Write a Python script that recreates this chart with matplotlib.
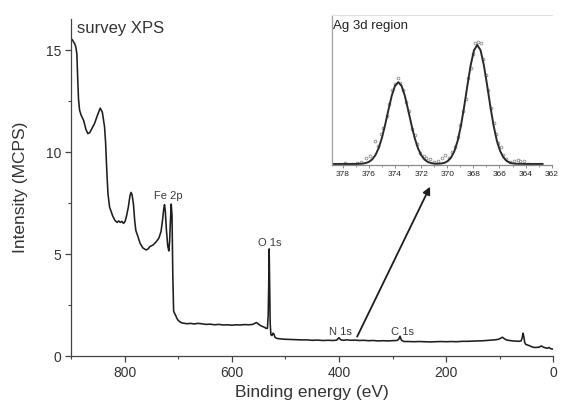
import matplotlib
matplotlib.use("Agg")
import matplotlib.pyplot as plt
from matplotlib.ticker import MultipleLocator

plt.rcParams['font.family'] = ['Liberation Sans', 'DejaVu Sans']

# ---- survey spectrum (binding energy in eV, intensity in MCPS) ----
survey_energy = [
    900, 897.5, 893, 891, 889, 887.5, 886, 884, 881, 876.5,
    872, 868.5, 865, 862, 856, 850, 845.5, 841.5, 837.5, 835.5,
    833, 831, 828, 822, 818, 814, 811, 808, 805, 802,
    799, 796.5, 793, 790, 788, 786, 783.5, 781, 779, 775,
    771, 766, 760, 756, 753, 747, 741, 736, 732, 729,
    727, 725.5, 724, 722, 719.5, 717.5, 716, 714.5, 713, 711.5,
    710, 708.5, 706.5, 704.5, 702.5, 700, 697, 693, 688, 683,
    677, 670, 663, 656, 648, 640, 632, 624, 616, 608,
    600, 592, 584, 576, 568, 561, 557, 554, 550, 545,
    540, 536, 533.5, 532, 531, 530.2, 529.3, 528.3, 527, 525,
    523, 521.5, 519, 515, 509, 500, 490, 480, 470, 460,
    450, 440, 430, 420, 410, 404, 400, 397, 392, 385,
    378, 370, 362, 354, 345, 336, 327, 318, 309, 300,
    292, 288.5, 286, 283.5, 279, 270, 260, 250, 240, 230,
    220, 210, 200, 190, 180, 170, 160, 150, 140, 130,
    120, 110, 102, 98, 95, 91, 87, 82, 76, 70,
    64, 60, 58, 56.5, 55, 53.5, 51.5, 48, 44, 40,
    36, 31, 27, 24, 22, 19, 15, 11, 8, 5,
    2, 0,
]
survey_counts = [
    15.55, 15.5, 15.3, 15.15, 14.8, 13.6, 12.6, 12.05, 11.8, 11.55,
    11.1, 10.9, 10.95, 11.1, 11.4, 11.85, 12.15, 11.95, 11.25, 10.5,
    8.95, 7.95, 7.3, 6.85, 6.65, 6.55, 6.62, 6.55, 6.6, 6.5,
    6.6, 6.85, 7.3, 7.85, 8.02, 7.9, 7.45, 6.6, 6.15, 5.85,
    5.52, 5.3, 5.2, 5.25, 5.36, 5.44, 5.6, 5.78, 6.1, 6.7,
    7.2, 7.42, 7.1, 6.2, 5.4, 5.15, 5.6, 6.6, 7.45, 6.9,
    3.9, 2.2, 2.08, 1.98, 1.85, 1.75, 1.68, 1.62, 1.6, 1.58,
    1.6, 1.57, 1.6, 1.58, 1.55, 1.56, 1.53, 1.55, 1.52, 1.53,
    1.51, 1.53, 1.52, 1.54, 1.53, 1.55, 1.6, 1.64, 1.56, 1.47,
    1.42, 1.36, 1.35, 2.0, 3.6, 5.25, 3.5, 1.6, 1.05, 1.0,
    1.12, 1.08, 0.9, 0.86, 0.84, 0.82, 0.81, 0.8, 0.79, 0.79,
    0.77, 0.78, 0.76, 0.77, 0.76, 0.78, 0.9, 0.8, 0.77, 0.79,
    0.77, 0.78, 0.76, 0.77, 0.75, 0.76, 0.74, 0.75, 0.74, 0.75,
    0.76, 0.82, 0.97, 0.78, 0.71, 0.71, 0.7, 0.71, 0.7, 0.69,
    0.7, 0.71, 0.7, 0.71, 0.7, 0.72, 0.72, 0.73, 0.74, 0.75,
    0.77, 0.79, 0.82, 0.88, 0.92, 0.84, 0.78, 0.76, 0.74, 0.73,
    0.72, 0.74, 0.9, 1.12, 0.95, 0.68, 0.57, 0.54, 0.5, 0.45,
    0.42, 0.42, 0.43, 0.47, 0.49, 0.44, 0.4, 0.38, 0.42, 0.36,
    0.34, 0.33,
]

# peak assignments: label text and the point where each label is centred
peak_labels = ["Fe 2p", "O 1s", "N 1s", "C 1s"]
peak_label_energy = [718, 529, 398, 282]
peak_label_height = [7.85, 5.56, 1.2, 1.2]

# ---- Ag 3d high-resolution region (fitted envelope and measured points) ----
ag_fit_energy = [
    379.0, 378.0, 377.0, 376.75, 376.5, 376.25, 376.0, 375.75, 375.5, 375.25,
    375.0, 374.75, 374.5, 374.25, 374.0, 373.75, 373.5, 373.25, 373.0, 372.75,
    372.5, 372.25, 372.0, 371.75, 371.5, 371.25, 371.0, 370.75, 370.45, 370.2,
    369.95, 369.7, 369.45, 369.2, 368.95, 368.7, 368.45, 368.2, 367.95, 367.7,
    367.45, 367.2, 366.95, 366.7, 366.45, 366.2, 365.95, 365.7, 365.45, 365.2,
    364.95, 364.7, 364.0, 363.0, 362.7,
]
ag_fit_counts = [
    0.007, 0.007, 0.007, 0.008, 0.009, 0.013, 0.021, 0.037, 0.066, 0.113,
    0.182, 0.271, 0.369, 0.462, 0.528, 0.552, 0.528, 0.462, 0.369, 0.271,
    0.182, 0.113, 0.066, 0.037, 0.021, 0.013, 0.009, 0.008, 0.010, 0.015,
    0.027, 0.051, 0.093, 0.162, 0.262, 0.391, 0.534, 0.668, 0.765, 0.800,
    0.765, 0.668, 0.534, 0.391, 0.262, 0.162, 0.093, 0.051, 0.027, 0.015,
    0.010, 0.008, 0.007, 0.007, 0.007,
]
ag_meas_energy = [
    377.8, 377.3, 376.9, 376.6, 376.2, 375.9, 375.55, 375.3, 375.1, 374.9,
    374.65, 374.45, 374.2, 374.0, 373.8, 373.6, 373.4, 373.15, 372.95, 372.7,
    372.5, 372.3, 372.05, 371.8, 371.6, 371.3, 371.0, 370.7, 370.4, 370.15,
    369.9, 369.65, 369.4, 369.2, 369.0, 368.8, 368.6, 368.4, 368.2, 368.0,
    367.85, 367.65, 367.45, 367.25, 367.05, 366.85, 366.65, 366.45, 366.3, 366.1,
    365.9, 365.7, 365.5, 365.2, 364.9, 364.6, 364.4, 364.1, 363.8,
]
ag_meas_counts = [
    0.015, 0.004, 0.012, 0.02, 0.045, 0.06, 0.16, 0.13, 0.21, 0.25,
    0.33, 0.41, 0.50, 0.54, 0.58, 0.55, 0.50, 0.42, 0.36, 0.24,
    0.20, 0.14, 0.08, 0.06, 0.05, 0.04, 0.02, 0.03, 0.05, 0.07,
    0.05, 0.09, 0.12, 0.19, 0.27, 0.36, 0.44, 0.58, 0.65, 0.74,
    0.81, 0.82, 0.81, 0.71, 0.60, 0.50, 0.38, 0.28, 0.21, 0.15,
    0.12, 0.07, 0.04, 0.02, 0.03, 0.035, 0.025, 0.03, 0.01,
]
ag_ticks = [378, 376, 374, 372, 370, 368, 366, 364, 362]

# arrow linking the survey baseline to the Ag 3d detail
arrow_tail = (366, 0.95)
arrow_head = (230, 8.3)

W, H = 561, 408
fig = plt.figure(figsize=(W / 100, H / 100), dpi=100)

axis_col = "#444444"
text_col = "#333333"

ax = fig.add_axes([71 / W, 1 - 356 / H, (553.3 - 71) / W, (356 - 19) / H])
ax.plot(survey_energy, survey_counts, color="#1e1e1e", lw=1.15)
ax.set_xlim(900, 0)
ax.set_ylim(0, 16.52)
for side in ("top", "right"):
    ax.spines[side].set_visible(False)
for side in ("left", "bottom"):
    ax.spines[side].set_color(axis_col)
    ax.spines[side].set_linewidth(0.9)
ax.xaxis.set_major_locator(MultipleLocator(200))
ax.xaxis.set_minor_locator(MultipleLocator(100))
ax.yaxis.set_major_locator(MultipleLocator(5))
ax.yaxis.set_minor_locator(MultipleLocator(2.5))
ax.tick_params(which="major", direction="out", length=4, width=0.9,
               color=axis_col, labelsize=10, labelcolor=text_col, pad=3)
ax.tick_params(which="minor", direction="out", length=2.2, width=0.8,
               color=axis_col)
ax.set_xlabel("Binding energy (eV)", fontsize=12.5, color=text_col, labelpad=4)
ax.set_ylabel("Intensity (MCPS)", fontsize=12.5, color=text_col, labelpad=13)

ax.text(0.013, 0.995, "survey XPS", transform=ax.transAxes, fontsize=12,
        color=text_col, ha="left", va="top")

for lab, e, h in zip(peak_labels, peak_label_energy, peak_label_height):
    ax.text(e, h, lab, fontsize=8, color="#3a3a3a", ha="center", va="center")

ax.annotate("", xy=arrow_head, xytext=arrow_tail,
            arrowprops=dict(arrowstyle="-|>", color="#1e1e1e", lw=1.3,
                            mutation_scale=11, shrinkA=0, shrinkB=0))

# inset with the Ag 3d detail
ins = fig.add_axes([331.7 / W, 1 - 165 / H, 220 / W, 150 / H])
ins.plot(ag_meas_energy, ag_meas_counts, ls="none", marker="o", ms=2.0,
         mfc="none", mec="#8c8c8c", mew=0.6)
ins.plot(ag_fit_energy, ag_fit_counts, color="#2a2a2a", lw=1.4)
ins.set_xlim(378.85, 362)
ins.set_ylim(0, 1)
ins.set_xticks(ag_ticks)
ins.xaxis.set_minor_locator(MultipleLocator(1))
ins.set_yticks([])
ins.spines["right"].set_visible(False)
ins.spines["top"].set_color("#e2e2e2")
ins.spines["top"].set_linewidth(0.8)
ins.spines["left"].set_color("#a0a0a0")
ins.spines["left"].set_linewidth(0.9)
ins.spines["bottom"].set_color("#8a8a8a")
ins.spines["bottom"].set_linewidth(0.9)
ins.tick_params(which="major", direction="out", length=2, width=0.7,
                color="#8a8a8a", labelsize=6, labelcolor="#222222", pad=2)
ins.tick_params(which="minor", direction="out", length=1.2, width=0.6,
                color="#8a8a8a")
ins.text(0.005, 0.97, "Ag 3d region", transform=ins.transAxes, fontsize=9.5,
         color="#222222", ha="left", va="top")

fig.savefig("out.png", dpi=100, facecolor="white")
